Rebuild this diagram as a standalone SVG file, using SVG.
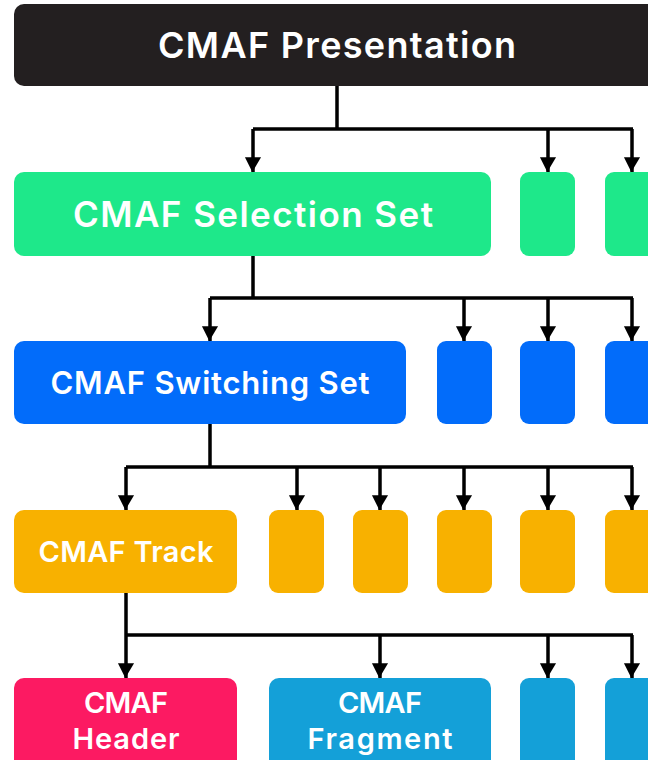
<svg xmlns="http://www.w3.org/2000/svg" width="648" height="760" viewBox="0 0 648 760">
<defs>
<marker id="ah" markerWidth="5" markerHeight="5" refX="4.2" refY="2.5" orient="auto" markerUnits="strokeWidth" viewBox="0 0 5 5">
<path d="M0,0 L4.2,2.5 L0,4.6 Z" fill="#000" transform="translate(0,0.2)"/>
</marker>
<style>
.lbl{font-family:Inter,"Open Sans","Liberation Sans",sans-serif;font-weight:600;fill:#fff;text-anchor:middle;dominant-baseline:central}
.ln{fill:none;stroke:#000;stroke-width:3.5}
.ar{fill:none;stroke:#000;stroke-width:3.5;marker-end:url(#ah)}
.k{fill:#231f20}.g{fill:#1ee88a}.b{fill:#026cfa}.o{fill:#f8b100}.p{fill:#fc1a62}.c{fill:#14a0d8}
</style>
</defs>
<rect width="648" height="760" fill="#fff"/>
<g id="connectors">
<path class="ln" d="M337,86 V129 M253,129 H633"/>
<path class="ar" d="M253,129 V172"/>
<path class="ar" d="M548,129 V172"/>
<path class="ar" d="M632,129 V172"/>
<path class="ln" d="M253,256 V298 M210,298 H633"/>
<path class="ar" d="M210,298 V341"/>
<path class="ar" d="M464,298 V341"/>
<path class="ar" d="M548,298 V341"/>
<path class="ar" d="M632,298 V341"/>
<path class="ln" d="M210,424 V467 M126,467 H633"/>
<path class="ar" d="M126,467 V510"/>
<path class="ar" d="M297,467 V510"/>
<path class="ar" d="M380,467 V510"/>
<path class="ar" d="M464,467 V510"/>
<path class="ar" d="M548,467 V510"/>
<path class="ar" d="M632,467 V510"/>
<path class="ln" d="M126,593 V635 M126,635 H633"/>
<path class="ar" d="M126,635 V678"/>
<path class="ar" d="M380,635 V678"/>
<path class="ar" d="M548,635 V678"/>
<path class="ar" d="M632,635 V678"/>
</g>
<g id="presentation"><rect class="k" x="14" y="4" width="650" height="82" rx="10"/><text class="lbl" x="337" y="45" font-size="36" textLength="358" lengthAdjust="spacing">CMAF Presentation</text></g>
<g id="selection-set"><rect class="g" x="14" y="172" width="477" height="84" rx="10"/><text class="lbl" x="253" y="214" font-size="35" textLength="360" lengthAdjust="spacing">CMAF Selection Set</text></g>
<g id="selection-set-2"><rect class="g" x="520" y="172" width="55" height="84" rx="9"/></g>
<g id="selection-set-3"><rect class="g" x="605" y="172" width="60" height="84" rx="9"/></g>
<g id="switching-set"><rect class="b" x="14" y="341" width="392" height="83" rx="10"/><text class="lbl" x="210" y="382" font-size="31" textLength="319" lengthAdjust="spacing">CMAF Switching Set</text></g>
<g id="switching-set-2"><rect class="b" x="437" y="341" width="55" height="83" rx="9"/></g>
<g id="switching-set-3"><rect class="b" x="520" y="341" width="55" height="83" rx="9"/></g>
<g id="switching-set-4"><rect class="b" x="605" y="341" width="60" height="83" rx="9"/></g>
<g id="track"><rect class="o" x="14" y="510" width="223" height="83" rx="10"/><text class="lbl" x="126" y="551" font-size="29" textLength="175" lengthAdjust="spacing">CMAF Track</text></g>
<g id="track-2"><rect class="o" x="269" y="510" width="55" height="83" rx="9"/></g>
<g id="track-3"><rect class="o" x="353" y="510" width="55" height="83" rx="9"/></g>
<g id="track-4"><rect class="o" x="437" y="510" width="55" height="83" rx="9"/></g>
<g id="track-5"><rect class="o" x="520" y="510" width="55" height="83" rx="9"/></g>
<g id="track-6"><rect class="o" x="605" y="510" width="60" height="83" rx="9"/></g>
<g id="header"><rect class="p" x="14" y="678" width="223" height="100" rx="10"/><text class="lbl" x="126" y="702" font-size="29" textLength="84" lengthAdjust="spacing">CMAF</text><text class="lbl" x="126" y="738" font-size="29" textLength="107" lengthAdjust="spacing">Header</text></g>
<g id="fragment"><rect class="c" x="269" y="678" width="222" height="100" rx="10"/><text class="lbl" x="380" y="702" font-size="29" textLength="84" lengthAdjust="spacing">CMAF</text><text class="lbl" x="380" y="738" font-size="29" textLength="145" lengthAdjust="spacing">Fragment</text></g>
<g id="fragment-2"><rect class="c" x="520" y="678" width="55" height="100" rx="9"/></g>
<g id="fragment-3"><rect class="c" x="605" y="678" width="60" height="100" rx="9"/></g>
</svg>
